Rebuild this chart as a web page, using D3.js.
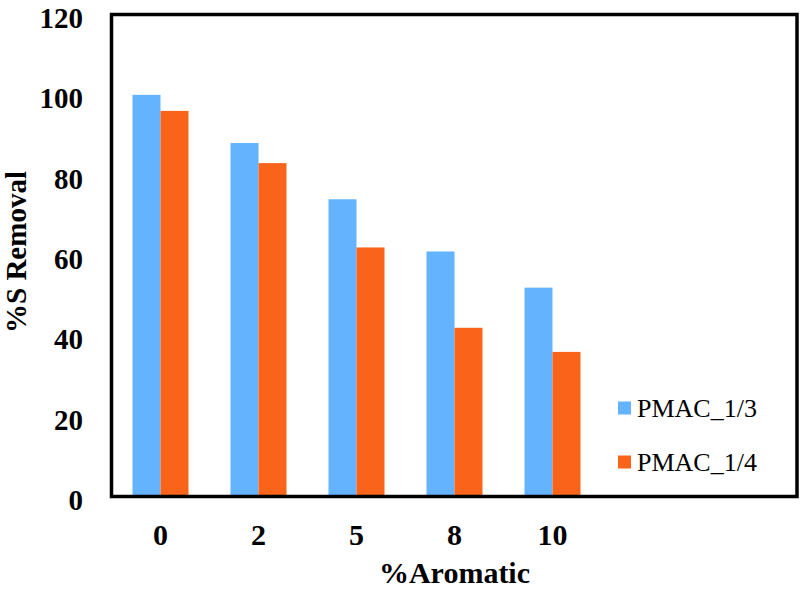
<!DOCTYPE html>
<html>
<head>
<meta charset="utf-8">
<script src="https://cdn.jsdelivr.net/npm/d3@7"></script>
<style>
html,body{margin:0;padding:0;background:#fff;}
svg{display:block;}
</style>
</head>
<body>
<svg id="chart" width="800" height="590"></svg>
<script>
const categories = ["0", "2", "5", "8", "10"];
const seriesNames = ["PMAC_1/3", "PMAC_1/4"];
const pmac13 = [100, 88, 74, 61, 52];
const pmac14 = [96, 83, 62, 42, 36];
const yTicks = [0, 20, 40, 60, 80, 100, 120];
const colors = ["#63B3FF", "#F9631A"];

const svg = d3.select("#chart");
const frame = {left: 111.5, right: 797, top: 14.5, bottom: 496.5};
const bandW = 98;

const x = d3.scaleBand().domain(categories)
  .range([frame.left, frame.left + bandW * categories.length]).padding(0);
const barW = 28;
const xs = d3.scaleBand().domain(seriesNames).range([0, barW * seriesNames.length]);
const groupOffset = (x.bandwidth() - barW * seriesNames.length) / 2;
const y = d3.scaleLinear().domain([0, 120]).range([frame.bottom, frame.top]);

const seriesData = [pmac13, pmac14];
seriesNames.forEach((name, si) => {
  svg.append("g").selectAll("rect").data(categories).join("rect")
    .attr("x", (c) => x(c) + groupOffset + xs(name))
    .attr("y", (c, i) => y(seriesData[si][i]))
    .attr("width", xs.bandwidth())
    .attr("height", (c, i) => y(0) - y(seriesData[si][i]))
    .attr("fill", colors[si]);
});

// frame
svg.append("rect")
  .attr("x", frame.left).attr("y", frame.top)
  .attr("width", frame.right - frame.left).attr("height", frame.bottom - frame.top)
  .attr("fill", "none").attr("stroke", "#000").attr("stroke-width", 3.5);

const font = "'Liberation Serif', 'Times New Roman', serif";

// y axis
const yAxis = d3.axisLeft(y).tickValues(yTicks).tickSize(0).tickPadding(0);
const yg = svg.append("g").attr("transform", `translate(83,0)`).call(yAxis);
yg.select(".domain").remove();
yg.selectAll("text").attr("font-family", font).attr("font-weight", "bold")
  .attr("font-size", 29).attr("fill", "#000").attr("dy", "0.45em");

// x axis
const xAxis = d3.axisBottom(x).tickSize(0).tickPadding(0);
const xg = svg.append("g").attr("transform", `translate(0,524)`).call(xAxis);
xg.select(".domain").remove();
xg.selectAll("text").attr("font-family", font).attr("font-weight", "bold")
  .attr("font-size", 30).attr("fill", "#000").attr("dy", "0.71em");

// axis titles
svg.append("text").attr("x", x("8") + x.bandwidth() / 2).attr("y", 583)
  .attr("text-anchor", "middle").attr("font-family", font).attr("font-weight", "bold")
  .attr("font-size", 30).text("%Aromatic");
svg.append("text").attr("transform", "translate(26,252) rotate(-90)")
  .attr("text-anchor", "middle").attr("font-family", font).attr("font-weight", "bold")
  .attr("font-size", 29).text("%S Removal");

// legend
const legend = svg.append("g");
seriesNames.forEach((name, i) => {
  const ly = 401.5 + i * 54;
  legend.append("rect").attr("x", 618).attr("y", ly).attr("width", 13).attr("height", 13)
    .attr("fill", colors[i]);
  legend.append("text").attr("x", 637).attr("y", ly + 15)
    .attr("font-family", font).attr("font-size", 26).attr("fill", "#000").text(name);
});
</script>
</body>
</html>
